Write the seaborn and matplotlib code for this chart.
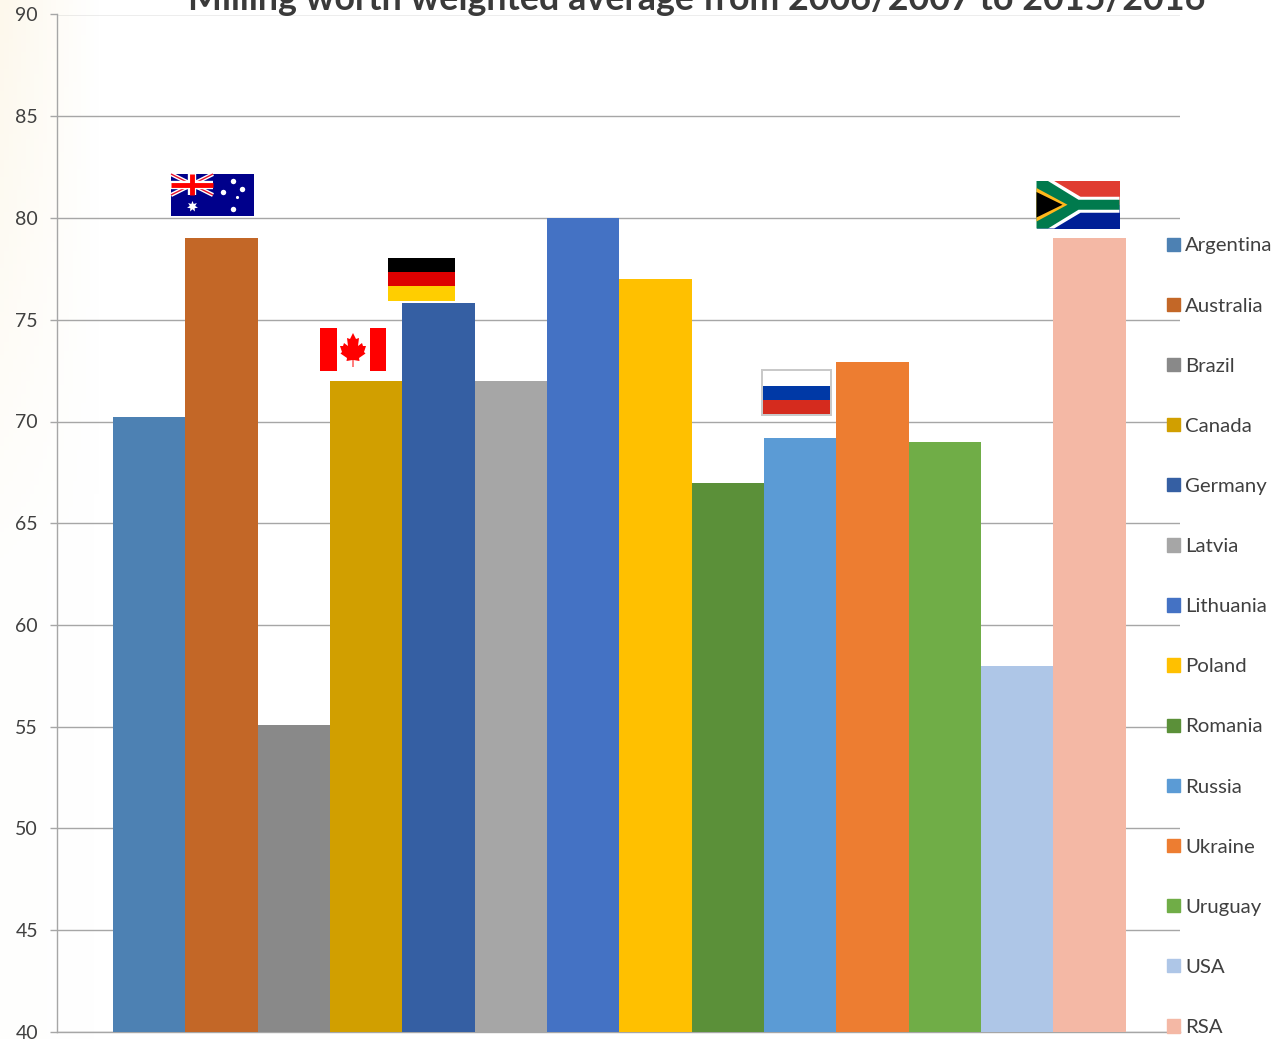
import numpy as np
import matplotlib
matplotlib.use("Agg")
import matplotlib.pyplot as plt
from matplotlib.patches import Rectangle, Polygon
from matplotlib.transforms import Affine2D
from matplotlib.colors import LinearSegmentedColormap
import seaborn as sns

countries = ["Argentina", "Australia", "Brazil", "Canada", "Germany", "Latvia", "Lithuania",
             "Poland", "Romania", "Russia", "Ukraine", "Uruguay", "USA", "RSA"]
values = [70.2, 79, 55.1, 72, 75.8, 72, 80, 77, 67, 69.2, 72.9, 69, 58, 79]
colors = ["#4D81B3", "#C36727", "#898989", "#D19F00", "#355FA3", "#A6A6A6", "#4472C4",
          "#FFC000", "#5B9039", "#5B9BD5", "#ED7D31", "#70AD47", "#AEC6E7", "#F4B8A5"]
y_ticks = [40, 45, 50, 55, 60, 65, 70, 75, 80, 85, 90]
title = "Milling worth weighted average from 2006/2007 to 2015/2016"

W, H = 1286, 1039
sns.set_theme(style="white")
plt.rcParams["font.family"] = ["Lato", "DejaVu Sans"]
fig = plt.figure(figsize=(W / 100, H / 100), dpi=100, facecolor="white")
px = Affine2D().scale(1 / W, -1 / H).translate(0, 1) + fig.transFigure

# faint cream wash on the left of the slide
bg = fig.add_axes([0, 0, 1, 1], zorder=0)
xx, yy = np.meshgrid(np.linspace(0, 1, 300), np.linspace(0, 1, 240))
wash = np.clip(1 - xx / 0.075, 0, 1) * np.clip(1 - yy / 0.6, 0.1, 1)
bg.imshow(wash, cmap=LinearSegmentedColormap.from_list("w", ["#FFFFFF", "#FDF8EC"]),
          aspect="auto", vmin=0, vmax=1)
bg.axis("off")

ax = fig.add_axes([57 / W, 1 - 1032 / H, (1180 - 57) / W, (1032 - 14.5) / H], zorder=1)
ax.patch.set_alpha(0)
sns.barplot(x=countries, y=values, hue=countries, palette=colors, order=countries,
            hue_order=countries, width=1, dodge=False, legend=False, saturation=1,
            linewidth=0, ax=ax, zorder=3)
unit = (1125.5 - 113) / 14
ax.set_xlim((57 - 113) / unit - 0.5, (1180 - 113) / unit - 0.5)
ax.set_ylim(40, 90)
ax.set_yticks(y_ticks)
ax.set_xticks([])
ax.yaxis.grid(True, color="#A6A6A6", linewidth=1.0)
ax.set_axisbelow(True)
for s in ["top", "right"]:
    ax.spines[s].set_visible(False)
for s in ["left", "bottom"]:
    ax.spines[s].set_color("#A6A6A6")
    ax.spines[s].set_linewidth(1.0)
ax.tick_params(axis="y", length=4.7, width=1.0, color="#A6A6A6", labelsize=14,
               labelcolor="#404040", pad=9, left=True)
ax.set_ylabel("")

handles = [Rectangle((0, 0), 1, 1, color=c) for c in colors]
leg = ax.legend(handles, countries, loc="upper left", bbox_to_anchor=(1167 / W, 1 - 237.5 / H),
                bbox_transform=fig.transFigure, frameon=False, fontsize=14.7, handlelength=0.63,
                handleheight=0.63, handletextpad=0.25, labelspacing=2.112, borderpad=0, borderaxespad=0,
                labelcolor="#404040")
leg.set_zorder(6)

fig.text(697 / W, 1 - 10 / H, title, ha="center", va="baseline", fontsize=25.8, fontweight="bold",
         color="#3A3A3A", zorder=8)


def rect(x0, y0, x1, y1, c):
    fig.add_artist(Rectangle((x0, y0), x1 - x0, y1 - y0, transform=px, facecolor=c, edgecolor="none", zorder=7))


def poly(pts, c, lw=0, ec="none"):
    fig.add_artist(Polygon(pts, closed=True, transform=px, facecolor=c, edgecolor=ec, linewidth=lw, zorder=7))


def line(x0, y0, x1, y1, c, lw):
    fig.add_artist(plt.Line2D([x0, x1], [y0, y1], transform=px, color=c, linewidth=lw, zorder=7,
                              solid_capstyle="butt"))


# Australia
rect(171, 174, 254, 216, "#00008B")
line(171, 174, 213, 195, "white", 3); line(213, 174, 171, 195, "white", 3)
line(171, 174, 213, 195, "#E8112D", 1); line(213, 174, 171, 195, "#E8112D", 1)
line(192, 174, 192, 195, "white", 6); line(171, 184.5, 213, 184.5, "white", 6)
line(192, 174, 192, 195, "#FF0000", 3.5); line(171, 184.5, 213, 184.5, "#FF0000", 3.5)
star_x = [192, 233, 223, 242, 237, 233]
star_y = [206, 181, 192, 189, 197, 209]
star_s = [38, 9, 9, 9, 3, 9]
for sx, sy, ss in zip(star_x, star_y, star_s):
    fig.add_artist(plt.Line2D([sx], [sy], transform=px, marker=(7, 1, 0) if ss > 10 else "o",
                              markersize=np.sqrt(ss) * 1.3, color="white", markeredgewidth=0, zorder=8))

# Canada
rect(320, 328, 386, 371, "white")
rect(320, 328, 336.5, 371, "#FF0000")
rect(369.5, 328, 386, 371, "#FF0000")
leaf = [(353, 333), (356, 339), (359, 338), (358, 346), (362, 343), (363, 346), (366, 346), (364, 352),
        (365.5, 353.5), (359, 358), (359.5, 361), (353.5, 360), (353.5, 367), (352.5, 367), (352.5, 360),
        (346.5, 361), (347, 358), (340.5, 353.5), (342, 352), (340, 346), (343, 346), (344, 343),
        (348, 346), (347, 338), (350, 339)]
poly(leaf, "#FF0000")

# Germany
rect(388, 257.5, 455, 272, "#000000")
rect(388, 272, 455, 286, "#DD0000")
rect(388, 286, 455, 300.5, "#FFCE00")

# Russia
rect(760.5, 369, 832, 416, "#C9C9C9")
rect(762.5, 371, 830, 385.5, "#FFFFFF")
rect(762.5, 385.5, 830, 400, "#0039A6")
rect(762.5, 400, 830, 414, "#D52B1E")

# South Africa
x0, x1, y0, y1 = 1036.5, 1119.5, 181, 228.5
ym = (y0 + y1) / 2
rect(x0, y0, x1, ym, "#E03C31")
rect(x0, ym, x1, y1, "#001F96")
poly([(x0, y0), (x0 + 17.7, y0), (x0 + 44, ym - 8), (x1, ym - 8), (x1, ym + 8), (x0 + 44, ym + 8),
      (x0 + 17.7, y1), (x0, y1)], "white")
poly([(x0, y0), (x0 + 11.5, y0), (x0 + 42, ym - 5), (x1, ym - 5), (x1, ym + 5), (x0 + 42, ym + 5),
      (x0 + 11.5, y1), (x0, y1)], "#007A4D")
poly([(x0, y0 + 7), (x0 + 31, ym), (x0, y1 - 7)], "#FFB81C")
poly([(x0, y0 + 11), (x0 + 26, ym), (x0, y1 - 11)], "#000000")

fig.savefig("out.png", dpi=100, facecolor="white")
